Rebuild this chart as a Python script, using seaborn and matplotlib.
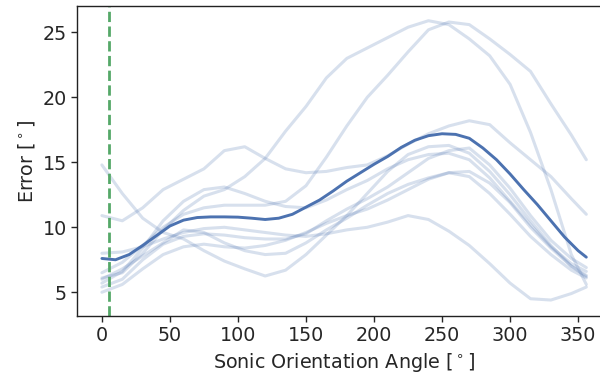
import numpy as np
import pandas as pd
import matplotlib
matplotlib.use("Agg")
import matplotlib.pyplot as plt
import seaborn as sns

# Sampled orientation angles (degrees) for the individual runs
angles = [0, 15, 30, 45, 60, 75, 90, 105, 120, 135, 150, 165, 180,
          195, 210, 225, 240, 255, 270, 285, 300, 315, 330, 345, 356]

# Per-run orientation error (degrees)
run_a = [14.8, 12.6, 10.7, 9.6, 9.1, 8.2, 7.4, 6.8, 6.25, 6.7, 7.9, 9.4, 10.9,
         12.6, 14.3, 15.6, 16.2, 16.3, 15.7, 14.3, 12.5, 10.5, 8.6, 7.0, 6.3]
run_b = [10.9, 10.5, 11.5, 12.9, 13.7, 14.5, 15.9, 16.2, 15.3, 14.5, 14.2, 14.3, 14.6,
         14.8, 15.5, 16.4, 17.2, 17.8, 18.2, 17.9, 16.5, 15.2, 13.9, 12.2, 11.0]
run_c = [5.7, 6.6, 8.4, 10.5, 12.0, 12.9, 13.1, 12.6, 12.0, 11.6, 11.5, 12.1, 12.9,
         13.6, 14.5, 15.2, 15.6, 15.7, 15.2, 13.8, 12.0, 10.2, 8.5, 7.2, 6.6]
run_d = [5.0, 5.6, 6.8, 7.9, 8.5, 8.7, 8.5, 8.4, 8.6, 9.0, 9.6, 10.3, 10.9,
         11.4, 12.1, 12.9, 13.7, 14.2, 13.9, 12.6, 11.0, 9.3, 7.9, 6.7, 6.1]
run_e = [5.4, 6.0, 7.5, 8.7, 9.3, 9.5, 9.4, 9.2, 9.1, 9.1, 9.5, 10.5, 11.4,
         12.2, 13.1, 14.2, 15.3, 15.9, 16.1, 14.8, 13.0, 10.9, 9.0, 7.6, 6.9]
run_f = [6.0, 6.8, 7.8, 8.8, 9.8, 9.6, 8.8, 8.2, 7.9, 8.0, 8.8, 9.8, 10.7,
         11.7, 12.6, 13.3, 13.8, 14.2, 14.3, 13.4, 11.9, 10.0, 8.4, 7.0, 6.2]
run_g = [8.0, 8.1, 8.5, 9.1, 9.6, 9.9, 10.0, 9.8, 9.6, 9.4, 9.3, 9.5, 9.8,
         10.0, 10.4, 10.9, 10.6, 9.7, 8.6, 7.2, 5.7, 4.5, 4.4, 4.9, 5.4]
run_h = [6.1, 6.5, 8.0, 9.8, 11.3, 12.4, 12.9, 13.9, 15.3, 17.4, 19.3, 21.5, 23.0,
         23.8, 24.6, 25.4, 25.9, 25.6, 24.5, 23.2, 21.0, 17.3, 12.9, 7.9, 5.6]
run_i = [6.5, 7.3, 8.6, 10.0, 11.0, 11.5, 11.7, 11.7, 11.7, 12.0, 13.2, 15.4, 17.8,
         20.0, 21.7, 23.5, 25.2, 25.8, 25.6, 24.5, 23.3, 22.0, 19.5, 17.1, 15.2]

# Mean error across runs, on a finer angle grid
mean_angles = [0, 10, 20, 30, 40, 50, 60, 70, 80, 90, 100, 110, 120, 130, 140, 150,
               160, 170, 180, 190, 200, 210, 220, 230, 240, 250, 260, 270, 280,
               290, 300, 310, 320, 330, 340, 350, 356]
mean_error = [7.6, 7.5, 7.9, 8.6, 9.35, 10.1, 10.55, 10.75, 10.8, 10.8, 10.78, 10.7,
              10.6, 10.7, 11.0, 11.55, 12.1, 12.8, 13.55, 14.2, 14.85, 15.45, 16.15,
              16.7, 17.05, 17.2, 17.15, 16.85, 16.1, 15.2, 14.1, 12.9, 11.75, 10.5,
              9.25, 8.2, 7.7]

# Reference orientation marker
ref_angle = 5

runs = [run_a, run_b, run_c, run_d, run_e, run_f, run_g, run_h, run_i]

df_runs = pd.DataFrame({
    "angle": np.tile(angles, len(runs)),
    "error": np.concatenate(runs),
    "run": np.repeat(np.arange(len(runs)), len(angles)),
})
df_mean = pd.DataFrame({"angle": mean_angles, "error": mean_error})

sns.set_theme(style="ticks")
plt.rcParams["font.family"] = ["DejaVu Sans"]

blue = sns.color_palette("deep")[0]
green = sns.color_palette("deep")[2]

fig = plt.figure(figsize=(6, 3.78), dpi=100)
ax = fig.add_axes([0.129, 0.165, 0.889, 0.818])

sns.lineplot(data=df_runs, x="angle", y="error", units="run", estimator=None,
             color=blue, alpha=0.22, linewidth=2.2, ax=ax, legend=False)
sns.lineplot(data=df_mean, x="angle", y="error", color=blue, linewidth=2.1,
             ax=ax, legend=False)
ax.axvline(ref_angle, color=green, linestyle="--", linewidth=2.0)

ax.set_xlim(-18, 374)
ax.set_ylim(3.2, 27.0)
ax.set_xticks(range(0, 351, 50))
ax.set_yticks(range(5, 26, 5))
ax.tick_params(labelsize=13.8, length=4, width=1)
ax.set_xlabel(r"Sonic Orientation Angle [$^\circ$]", fontsize=13.8)
ax.set_ylabel(r"Error [$^\circ$]", fontsize=13.8)
for s in ax.spines.values():
    s.set_linewidth(1.0)
    s.set_color("#222222")

fig.savefig("out.png", dpi=100)
